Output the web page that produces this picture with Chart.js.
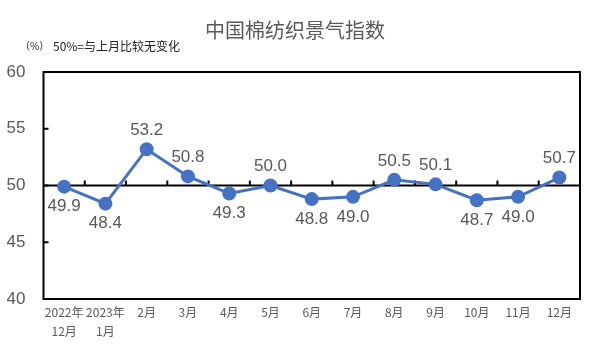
<!DOCTYPE html>
<html>
<head>
<meta charset="utf-8">
<script src="https://cdn.jsdelivr.net/npm/chart.js@4"></script>
<style>
    html, body { margin: 0; padding: 0; background: #fff; }
    #wrap { width: 591px; height: 354px; position: relative; }
</style>
</head>
<body>
<div id="wrap"><canvas id="chart" width="591" height="354"></canvas></div>
<script>
const CATEGORIES = [['2022年', '12月'], ['2023年', '1月'], '2月', '3月', '4月', '5月', '6月', '7月', '8月', '9月', '10月', '11月', '12月'];
const INDEX_VALUES = [49.9, 48.4, 53.2, 50.8, 49.3, 50.0, 48.8, 49.0, 50.5, 50.1, 48.7, 49.0, 50.7];
// which labels sit above the point (true) or below it (false)
const LABEL_ABOVE = [false, false, true, true, false, true, false, false, true, true, false, false, true];
const Y_TICKS = [40, 45, 50, 55, 60];

const TITLE = '中国棉纺织景气指数';
const UNIT_NOTE = '（%）';
const SUBTITLE = '50%=与上月比较无变化';

const GREY = '#595959';
const CJK = '"Noto Sans CJK SC", "Liberation Sans", sans-serif';
const NUM = '"Liberation Sans", Arial, sans-serif';

// frame, 50% baseline with ticks, titles
const framePlugin = {
    id: 'frame',
    beforeDatasetsDraw(chart) {
        const { ctx, chartArea: a, scales } = chart;
        ctx.save();
        ctx.strokeStyle = '#000';
        ctx.lineWidth = 2;
        ctx.strokeRect(a.left, a.top, a.right - a.left, a.bottom - a.top);

        // inside ticks on the value axis
        for (const v of Y_TICKS) {
            const y = scales.y.getPixelForValue(v);
            ctx.beginPath();
            ctx.moveTo(a.left, y);
            ctx.lineTo(a.left + 5, y);
            ctx.stroke();
        }

        // 50 baseline with category boundary ticks
        const y50 = scales.y.getPixelForValue(50);
        ctx.beginPath();
        ctx.moveTo(a.left, y50);
        ctx.lineTo(a.right, y50);
        ctx.stroke();
        const step = (a.right - a.left) / CATEGORIES.length;
        for (let i = 1; i < CATEGORIES.length; i++) {
            const x = a.left + step * i;
            ctx.beginPath();
            ctx.moveTo(x, y50);
            ctx.lineTo(x, y50 - 5);
            ctx.stroke();
        }
        ctx.restore();
    },
    afterDraw(chart) {
        const { ctx } = chart;
        ctx.save();
        ctx.fillStyle = GREY;
        ctx.font = '20px ' + CJK;
        ctx.textAlign = 'center';
        ctx.textBaseline = 'middle';
        ctx.fillText(TITLE, 295, 30);

        ctx.fillStyle = '#222';
        ctx.textAlign = 'left';
        ctx.font = '10px ' + CJK;
        ctx.fillText(UNIT_NOTE, 20, 46);
        ctx.font = '12px ' + CJK;
        ctx.fillText(SUBTITLE, 53, 46);
        ctx.restore();
    },
};

// value labels above / below each point
const labelPlugin = {
    id: 'pointLabels',
    afterDatasetsDraw(chart) {
        const { ctx } = chart;
        const meta = chart.getDatasetMeta(0);
        ctx.save();
        ctx.fillStyle = GREY;
        ctx.font = '17px ' + NUM;
        ctx.textAlign = 'center';
        ctx.textBaseline = 'middle';
        meta.data.forEach((pt, i) => {
            const dy = LABEL_ABOVE[i] ? -19 : 20;
            ctx.fillText(INDEX_VALUES[i].toFixed(1), pt.x, pt.y + dy);
        });
        ctx.restore();
    },
};

new Chart(document.getElementById('chart'), {
    type: 'line',
    data: {
        labels: CATEGORIES,
        datasets: [{
            data: INDEX_VALUES,
            borderColor: '#4472C4',
            backgroundColor: '#4472C4',
            borderWidth: 3,
            pointRadius: 5.5,
            pointHoverRadius: 5.5,
            tension: 0,
        }],
    },
    options: {
        responsive: false,
        animation: false,
        layout: { padding: { top: 72, right: 11, bottom: 0, left: 0 } },
        plugins: {
            legend: { display: false },
            tooltip: { enabled: false },
        },
        scales: {
            x: {
                offset: true,
                grid: { display: false, drawTicks: false },
                border: { display: false },
                ticks: {
                    autoSkip: false,
                    maxRotation: 0,
                    minRotation: 0,
                    padding: 4,
                    color: GREY,
                    font: { size: 12, family: CJK, lineHeight: 1.6 },
                },
                afterFit(scale) { scale.height = 55; },
            },
            y: {
                min: 40,
                max: 60,
                grid: { display: false, drawTicks: false },
                border: { display: false },
                ticks: {
                    stepSize: 5,
                    padding: 18,
                    color: GREY,
                    font: { size: 17, family: NUM },
                },
                afterFit(scale) { scale.width = 43.5; },
            },
        },
    },
    plugins: [framePlugin, labelPlugin],
});
</script>
</body>
</html>
